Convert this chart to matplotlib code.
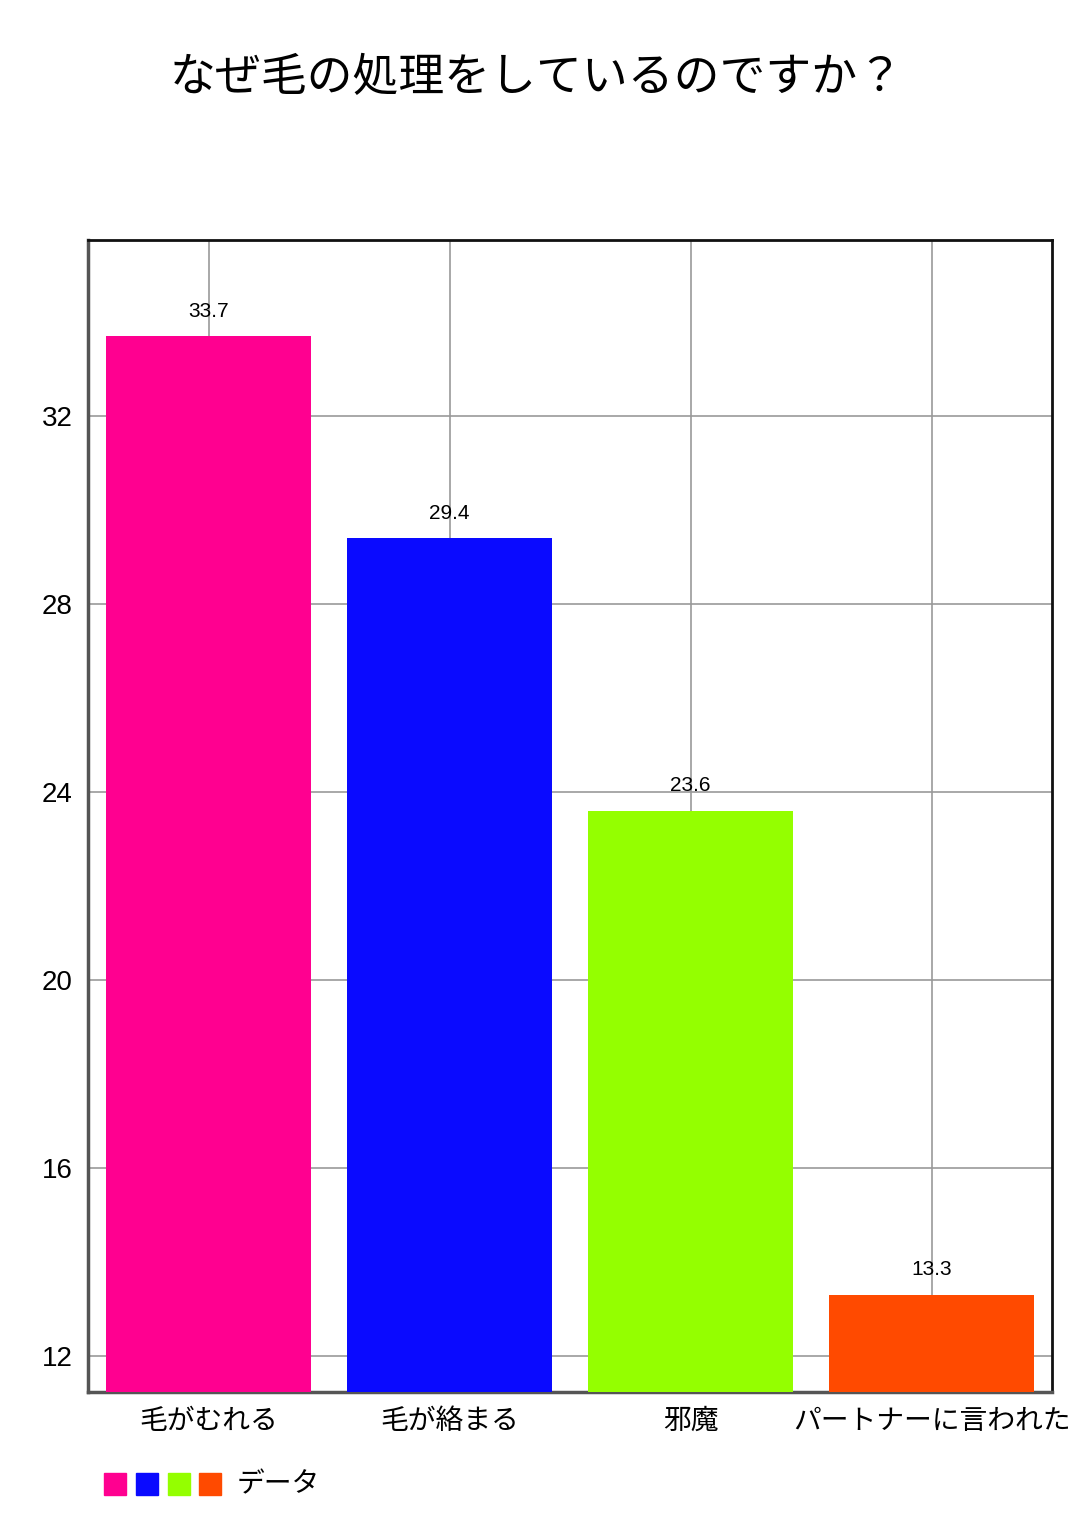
import matplotlib
matplotlib.use("Agg")
import matplotlib.pyplot as plt
from matplotlib.patches import Rectangle

plt.rcParams['font.family'] = ['Noto Sans CJK JP', 'DejaVu Sans']
NUM_FONT = ['Liberation Sans', 'Noto Sans CJK JP', 'DejaVu Sans']

title = "なぜ毛の処理をしているのですか？"
categories = ["毛がむれる", "毛が絡まる", "邪魔", "パートナーに言われた"]
values = [33.7, 29.4, 23.6, 13.3]
colors = ["#FF0090", "#0A0AFF", "#94FF00", "#FF4A00"]
yticks = [12, 16, 20, 24, 28, 32]
legend_label = "データ"

W, H = 1080, 1518
fig = plt.figure(figsize=(W / 100, H / 100), dpi=100)
ax = fig.add_axes([88 / W, 1 - 1392 / H, (1052 - 88) / W, (1392 - 240) / H])

x = list(range(len(categories)))
bars = ax.bar(x, values, width=0.85, color=colors, zorder=3)
ax.set_xlim(-0.5, len(categories) - 0.5)
ax.set_ylim(11.23, 35.745)
ax.set_yticks(yticks)
ax.set_yticklabels([str(t) for t in yticks], fontsize=20, family=NUM_FONT)
ax.set_xticks(x)
ax.set_xticklabels(categories, fontsize=20)
ax.tick_params(axis='both', length=0)
ax.tick_params(axis='x', pad=10)
ax.tick_params(axis='y', pad=11)
ax.grid(True, color="#999999", linewidth=1.2, zorder=0)
ax.set_axisbelow(True)

for side in ['top', 'right']:
    ax.spines[side].set_color('#111111')
    ax.spines[side].set_linewidth(2)
for side in ['left', 'bottom']:
    ax.spines[side].set_color('#555555')
    ax.spines[side].set_linewidth(2.5)

for xi, v in zip(x, values):
    ax.annotate(f"{v}", (xi, v), xytext=(0, 11), textcoords='offset points',
                ha='center', va='bottom', fontsize=15, family=NUM_FONT, zorder=4)

fig.text(537 / W, 1 - 78 / H, title, ha='center', va='center', fontsize=33)

# legend
sx = [104, 136, 168, 199]
for i, c in enumerate(colors):
    fig.add_artist(Rectangle((sx[i] / W, 1 - 1495 / H), 22 / W, 22 / H,
                             transform=fig.transFigure, color=c))
fig.text(237 / W, 1 - 1484 / H, legend_label, ha='left', va='center', fontsize=20)

fig.savefig("out.png", dpi=100)
